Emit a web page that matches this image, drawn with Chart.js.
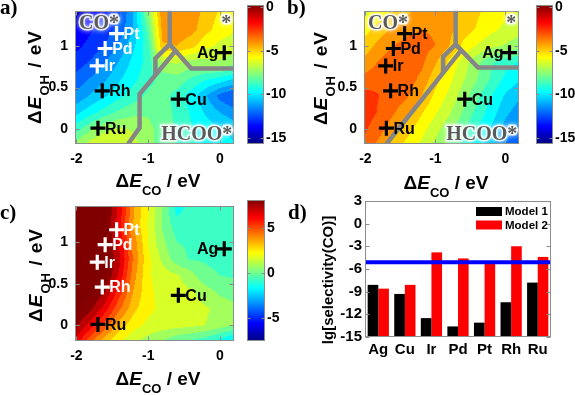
<!DOCTYPE html>
<html>
<head>
<meta charset="utf-8">
<script src="https://cdn.jsdelivr.net/npm/chart.js@4/dist/chart.umd.min.js"></script>
<style>
  body { margin: 0; background: #fff; }
  #fig { position: relative; width: 575px; height: 395px; overflow: hidden; font-family: 'Liberation Sans', Arial, sans-serif; }
  canvas { position: absolute; }
  .t { position: absolute; font-weight: bold; font-size: 19px; line-height: 19px; white-space: nowrap; transform: translate(-50%, -50%); }
  .t.rot { transform: translate(-50%, -50%) rotate(-90deg); letter-spacing: 1px; }
  .t i { font-style: italic; }
  .t .sub { position: relative; top: 8px; font-size: 13px; }
  .t.small { font-size: 15px; line-height: 15px; letter-spacing: 0; }
  .lbl { position: absolute; font-family: 'Liberation Serif', 'Times New Roman', serif; font-weight: bold; font-size: 21px; line-height: 21px; }
</style>
</head>
<body>
<div id="fig">
  <canvas id="mapA" width="245" height="195" style="left:0;top:0"></canvas>
  <canvas id="cbA" width="48" height="195" style="left:240px;top:0"></canvas>
  <canvas id="mapB" width="240" height="195" style="left:290px;top:0"></canvas>
  <canvas id="cbB" width="46" height="195" style="left:529px;top:0"></canvas>
  <canvas id="mapC" width="245" height="200" style="left:0;top:195px"></canvas>
  <canvas id="cbC" width="48" height="200" style="left:240px;top:195px"></canvas>
  <canvas id="barD" width="285" height="200" style="left:290px;top:195px"></canvas>

  <div class="lbl" style="left:0;top:-3px">a)</div>
  <div class="lbl" style="left:287px;top:-3px">b)</div>
  <div class="lbl" style="left:0;top:202px">c)</div>
  <div class="lbl" style="left:288px;top:202px">d)</div>

  <div class="t" style="left:158px;top:181px">&Delta;<i>E</i><span class="sub">CO</span> / eV</div>
  <div class="t rot" style="left:35px;top:77px">&Delta;<i>E</i><span class="sub">OH</span> / eV</div>
  <div class="t" style="left:446px;top:183px">&Delta;<i>E</i><span class="sub">CO</span> / eV</div>
  <div class="t rot" style="left:321px;top:78px">&Delta;<i>E</i><span class="sub">OH</span> / eV</div>
  <div class="t" style="left:158px;top:379px">&Delta;<i>E</i><span class="sub">CO</span> / eV</div>
  <div class="t rot" style="left:36px;top:275px">&Delta;<i>E</i><span class="sub">OH</span> / eV</div>
  <div class="t rot small" style="left:327px;top:280px">lg[selectivity(CO)]</div>
</div>

<script>
// grid nodes of the maps (eV)
const GRID_X = [-2.0, -1.8, -1.6, -1.4, -1.2, -1.0, -0.8, -0.6, -0.4, -0.2, 0.0, 0.2];
const GRID_Y = [1.4, 1.2, 1.0, 0.8, 0.6, 0.4, 0.2, 0.0, -0.2];

// map a) rows follow GRID_Y, columns GRID_X
const MAP_A = [
  [-14.8, -14.0, -13.4, -12.6, -10.8, -7.5, -3.9, -3.8, -4.0, -4.8, -5.4, -5.7],
  [-14.0, -13.4, -12.9, -12.2, -10.8, -8.3, -4.2, -4.0, -4.2, -5.0, -5.7, -6.0],
  [-13.5, -13.0, -12.5, -11.5, -10.2, -8.8, -4.6, -4.5, -5.0, -5.9, -6.3, -6.6],
  [-12.9, -12.4, -11.7, -10.8, -9.8, -9.0, -7.0, -6.8, -7.3, -7.2, -7.0, -7.3],
  [-12.2, -11.6, -11.0, -10.2, -9.5, -8.8, -8.2, -8.0, -8.6, -9.2, -9.6, -10.2],
  [-11.5, -10.8, -10.2, -9.5, -8.9, -8.3, -8.2, -8.8, -9.7, -10.8, -12.0, -12.6],
  [-10.3, -9.6, -8.9, -8.3, -7.9, -7.8, -8.1, -8.7, -9.4, -10.2, -10.9, -11.4],
  [-8.8, -7.8, -7.1, -6.8, -7.0, -7.5, -8.0, -8.6, -9.2, -9.7, -10.0, -10.4],
  [-7.2, -6.4, -6.0, -6.0, -6.6, -7.5, -8.0, -8.5, -9.1, -9.5, -9.8, -10.0]
];
const MAP_B = [
  [-6.3, -5.7, -5.1, -4.6, -4.2, -4.0, -4.2, -4.7, -5.2, -5.6, -5.9, -6.2],
  [-5.6, -4.9, -4.3, -3.9, -3.7, -3.8, -4.3, -4.9, -5.4, -5.9, -6.3, -6.6],
  [-4.9, -4.2, -3.7, -3.4, -3.4, -3.7, -4.5, -5.5, -6.2, -6.7, -7.0, -7.3],
  [-4.2, -3.6, -3.2, -3.2, -3.5, -4.4, -5.5, -6.5, -7.5, -8.4, -9.0, -9.4],
  [-3.4, -3.1, -3.1, -3.3, -3.9, -5.0, -5.9, -6.8, -7.7, -8.6, -9.5, -10.0],
  [-2.6, -2.9, -3.2, -3.6, -4.5, -5.5, -6.3, -7.3, -8.3, -9.3, -10.2, -10.8],
  [-2.5, -3.0, -3.6, -4.3, -5.2, -6.0, -6.8, -7.8, -8.8, -9.7, -10.7, -11.3],
  [-2.8, -3.4, -4.2, -5.0, -5.8, -6.6, -7.4, -8.3, -9.3, -10.2, -11.2, -12.0],
  [-3.2, -4.0, -4.8, -5.6, -6.3, -7.1, -7.9, -8.8, -9.7, -10.7, -11.8, -12.8]
];
const MAP_C = [
  [9.0, 9.0, 8.6, 6.5, 3.6, 2.0, 0.4, -1.5, -0.8, -0.5, -0.5, -0.5],
  [9.0, 9.0, 8.5, 6.2, 3.5, 1.9, 0.3, -0.8, -0.6, -0.5, -0.5, -0.6],
  [9.0, 9.0, 8.6, 6.6, 4.0, 2.0, 0.6, -0.4, -0.5, -0.6, -0.6, -0.7],
  [9.0, 9.0, 8.6, 7.0, 4.2, 2.2, 1.0, -0.1, -0.5, -0.5, -0.6, -0.7],
  [9.0, 9.0, 8.5, 6.6, 3.9, 2.1, 1.6, 1.3, 0.7, -0.2, -0.4, -0.5],
  [9.0, 8.6, 7.6, 5.5, 3.5, 2.2, 1.7, 1.5, 1.3, 0.8, 0.2, 0.0],
  [8.6, 7.8, 6.4, 4.5, 3.0, 2.2, 1.8, 1.6, 1.5, 1.3, 1.0, 0.6],
  [7.8, 6.4, 4.8, 3.2, 2.3, 1.8, 1.6, 1.5, 1.4, 1.2, 0.8, 0.4],
  [6.4, 4.5, 3.0, 2.0, 1.3, 0.8, 0.3, -0.3, -0.6, -1.0, -1.6, -2.5]
];

// metals on the maps
const METALS = ['Pt', 'Pd', 'Ir', 'Rh', 'Ru', 'Cu', 'Ag'];
const METAL_DCO = [-1.44, -1.60, -1.71, -1.64, -1.70, -0.58, 0.06];
const METAL_DOH = [1.15, 0.97, 0.76, 0.46, 0.01, 0.36, 0.92];

// phase boundaries (dE_CO, dE_OH)
const BOUND_A_TOP = [[-0.70, 1.43], [-0.70, 1.02]];
const BOUND_A_RIGHT = [[-0.70, 1.02], [-0.40, 0.73], [0.20, 0.73]];
const BOUND_A_MAIN = [[-0.62, 0.94], [-1.12, 0.42], [-1.12, 0.015], [-1.28, -0.18]];
const BOUND_A_LOOP = [[-0.70, 1.02], [-0.90, 0.85], [-0.90, 0.65]];
const BOUND_B_TOP = [[-0.71, 1.43], [-0.71, 1.02]];
const BOUND_B_RIGHT = [[-0.71, 1.02], [-0.39, 0.74], [0.20, 0.74]];
const BOUND_B_MAIN = [[-0.63, 0.95], [-1.70, -0.18]];
const BOUND_B_LOOP = [[-0.71, 1.02], [-0.89, 0.87], [-0.89, 0.675]];

const X_TICKS = [-2, -1, 0];
const Y_TICKS = [0, 0.5, 1];
const CB_TICKS_AB = [0, -5, -10, -15];
const CB_TICKS_C = [5, 0, -5];
const CB_RANGE_AB = [-15.7, 0.26];
const CB_RANGE_C = [-7.6, 8.1];

// panel d
const BAR_METALS = ['Ag', 'Cu', 'Ir', 'Pd', 'Pt', 'Rh', 'Ru'];
const MODEL1 = [-8.1, -9.3, -12.5, -13.6, -13.1, -10.4, -7.8];
const MODEL2 = [-8.6, -8.1, -3.8, -4.6, -5.1, -3.0, -4.4];
const THRESHOLD = -5.1;
const BAR_TICKS = [3, 0, -3, -6, -9, -12, -15];

Chart.defaults.font.family = "'Liberation Sans', Arial, sans-serif";
Chart.defaults.font.weight = 'bold';
Chart.defaults.font.size = 14;
Chart.defaults.color = '#000';
Chart.defaults.animation = false;
Chart.defaults.events = [];
Chart.defaults.responsive = false;
Chart.defaults.devicePixelRatio = 1;
Chart.defaults.plugins.legend.display = false;
Chart.defaults.plugins.tooltip.enabled = false;

const FRAME = '#8c8c8c';
const el = id => document.getElementById(id);
const pts = arr => arr.map(p => ({ x: p[0], y: p[1] }));
const setTicks = list => s => { s.ticks = list.map(v => ({ value: v })); };
const fixSize = (prop, size) => s => {
  s[prop] = size;
  s.paddingTop = s.paddingBottom = s.paddingLeft = s.paddingRight = 0;
};

function jet(t) {
  t = Math.min(1, Math.max(0, t));
  const f = c => Math.round(255 * Math.min(1, Math.max(0, 1.5 - Math.abs(4 * t - c))));
  return [f(3), f(2), f(1)];
}

function sampleGrid(grid, vx, vy) {
  const nx = GRID_X.length, ny = GRID_Y.length;
  let fx = (vx - GRID_X[0]) / (GRID_X[1] - GRID_X[0]);
  let fy = (vy - GRID_Y[0]) / (GRID_Y[1] - GRID_Y[0]);
  fx = Math.min(nx - 1, Math.max(0, fx));
  fy = Math.min(ny - 1, Math.max(0, fy));
  const i = Math.min(nx - 2, Math.floor(fx)), j = Math.min(ny - 2, Math.floor(fy));
  const u = fx - i, w = fy - j;
  return grid[j][i] * (1 - u) * (1 - w) + grid[j][i + 1] * u * (1 - w) +
         grid[j + 1][i] * (1 - u) * w + grid[j + 1][i + 1] * u * w;
}

// filled contour bands, sampled through the chart's own scales
function heatmap(grid, range, step) {
  return {
    id: 'heatmap',
    beforeDatasetsDraw(chart) {
      const { ctx, chartArea: a, scales: { x, y } } = chart;
      const left = Math.round(a.left), top = Math.round(a.top);
      const w = Math.round(a.right) - left, h = Math.round(a.bottom) - top;
      const img = ctx.createImageData(w, h);
      const span = range[1] - range[0];
      for (let j = 0; j < h; j++) {
        const vy = y.getValueForPixel(top + j + 0.5);
        for (let i = 0; i < w; i++) {
          const v = sampleGrid(grid, x.getValueForPixel(left + i + 0.5), vy);
          const band = Math.floor((v - range[0]) / step);
          const c = jet((band + 0.5) * step / span);
          const k = 4 * (j * w + i);
          img.data[k] = c[0]; img.data[k + 1] = c[1]; img.data[k + 2] = c[2]; img.data[k + 3] = 255;
        }
      }
      ctx.putImageData(img, left, top);
    }
  };
}

const colorbar = {
  id: 'colorbar',
  beforeDatasetsDraw(chart) {
    const { ctx, chartArea: a, scales: { y } } = chart;
    const span = y.max - y.min;
    for (let py = Math.round(a.top); py < Math.round(a.bottom); py++) {
      const c = jet((y.getValueForPixel(py + 0.5) - y.min) / span);
      ctx.fillStyle = 'rgb(' + c.join(',') + ')';
      ctx.fillRect(a.left, py, a.right - a.left, 1);
    }
  }
};

function frame(tickX, tickY, len) {
  return {
    id: 'frame',
    afterDatasetsDraw(chart) {
      const { ctx, chartArea: a, scales } = chart;
      const L = Math.round(a.left) + 0.5, R = Math.round(a.right) - 0.5;
      const T = Math.round(a.top) + 0.5, B = Math.round(a.bottom) - 0.5;
      ctx.save();
      ctx.strokeStyle = FRAME;
      ctx.lineWidth = 1;
      ctx.strokeRect(L, T, R - L, B - T);
      ctx.beginPath();
      if (tickX) scales.x.ticks.forEach(t => {
        const px = Math.round(scales.x.getPixelForValue(t.value)) + 0.5;
        ctx.moveTo(px, B); ctx.lineTo(px, B - len);
        ctx.moveTo(px, T); ctx.lineTo(px, T + len);
      });
      if (tickY) scales.y.ticks.forEach(t => {
        const py = Math.round(scales.y.getPixelForValue(t.value)) + 0.5;
        ctx.moveTo(L, py); ctx.lineTo(L + len, py);
        ctx.moveTo(R, py); ctx.lineTo(R - len, py);
      });
      ctx.stroke();
      ctx.restore();
    }
  };
}

function metalLabels(colors) {
  return {
    id: 'metalLabels',
    afterDatasetsDraw(chart) {
      const { ctx } = chart;
      ctx.save();
      ctx.font = "bold 16px 'Liberation Sans', Arial, sans-serif";
      ctx.textBaseline = 'middle';
      chart.getDatasetMeta(0).data.forEach((p, i) => {
        ctx.fillStyle = colors[i];
        if (METALS[i] === 'Ag') {
          ctx.textAlign = 'right';
          ctx.fillText(METALS[i], p.x - 6, p.y + 1);
        } else {
          ctx.textAlign = 'left';
          ctx.fillText(METALS[i], p.x + 7, p.y + 1);
        }
      });
      ctx.restore();
    }
  };
}

const cornerText = {
  id: 'cornerText',
  afterDatasetsDraw(chart) {
    const { ctx, chartArea: a } = chart;
    ctx.save();
    ctx.font = "bold 20px 'Liberation Serif', 'Times New Roman', serif";
    const put = (txt, x, y, align) => {
      ctx.textAlign = align;
      ctx.shadowColor = '#fff';
      ctx.shadowBlur = 5;
      ctx.lineWidth = 3;
      ctx.strokeStyle = 'rgba(255,255,255,0.85)';
      ctx.strokeText(txt, x, y);
      ctx.shadowBlur = 0;
      ctx.fillStyle = '#5a5a5a';
      ctx.fillText(txt, x, y);
    };
    put('CO*', a.left + 4, a.top + 18, 'left');
    put('*', a.right - 3, a.top + 18, 'right');
    put('HCOO*', a.right - 2, a.bottom - 4, 'right');
    ctx.restore();
  }
};

function mapChart(id, grid, range, step, bounds, crossColors, pad, yW, xH, withText) {
  const datasets = [{
    data: METALS.map((m, i) => ({ x: METAL_DCO[i], y: METAL_DOH[i] })),
    pointStyle: 'cross',
    pointRadius: 7.5,
    pointBorderWidth: 3.2,
    pointBorderColor: crossColors
  }];
  bounds.forEach(b => datasets.push({
    data: pts(b), showLine: true, pointRadius: 0,
    borderColor: '#868686', borderWidth: 4.5
  }));
  const plugins = [heatmap(grid, range, step), frame(true, true, 4)];
  if (withText) plugins.push(cornerText);
  plugins.push(metalLabels(crossColors));
  return new Chart(el(id), {
    type: 'scatter',
    data: { datasets },
    options: {
      layout: { padding: pad },
      scales: {
        x: {
          min: -2.02, max: 0.2,
          afterBuildTicks: setTicks(X_TICKS),
          afterFit: fixSize('height', xH),
          ticks: { padding: 7, callback: v => String(v) },
          grid: { display: false, drawTicks: false },
          border: { display: false }
        },
        y: {
          min: id === 'mapC' ? -0.19 : -0.18, max: id === 'mapC' ? 1.44 : 1.425,
          afterBuildTicks: setTicks(Y_TICKS),
          afterFit: fixSize('width', yW),
          ticks: { padding: 7, callback: v => String(v) },
          grid: { display: false, drawTicks: false },
          border: { display: false }
        }
      }
    },
    plugins
  });
}

function colorbarChart(id, range, ticks, pad, yW) {
  return new Chart(el(id), {
    type: 'scatter',
    data: { datasets: [] },
    options: {
      layout: { padding: pad },
      scales: {
        x: { display: false },
        y: {
          position: 'right',
          min: range[0], max: range[1],
          afterBuildTicks: setTicks(ticks),
          afterFit: fixSize('width', yW),
          ticks: { padding: 2, callback: v => String(v) },
          grid: { display: false, drawTicks: false },
          border: { display: false }
        }
      }
    },
    plugins: [colorbar, frame(false, true, 3)]
  });
}

const WHITE3 = ['#fff', '#fff', '#fff', '#000', '#000', '#000', '#000'];
const BLACK = METALS.map(() => '#000');
const WHITE4 = ['#fff', '#fff', '#fff', '#fff', '#000', '#000', '#000'];

mapChart('mapA', MAP_A, CB_RANGE_AB, 0.8, [BOUND_A_TOP, BOUND_A_RIGHT, BOUND_A_MAIN, BOUND_A_LOOP],
  WHITE3, { left: 0, top: 5, right: 5, bottom: 0 }, 75, 51, true);
colorbarChart('cbA', CB_RANGE_AB, CB_TICKS_AB, { left: 7, top: 5, right: 0, bottom: 51 }, 24);

mapChart('mapB', MAP_B, CB_RANGE_AB, 0.8, [BOUND_B_TOP, BOUND_B_RIGHT, BOUND_B_MAIN, BOUND_B_LOOP],
  BLACK, { left: 0, top: 5, right: 2, bottom: 0 }, 74, 51, true);
colorbarChart('cbB', CB_RANGE_AB, CB_TICKS_AB, { left: 7, top: 5, right: 0, bottom: 51 }, 22);

mapChart('mapC', MAP_C, CB_RANGE_C, 0.8, [], WHITE4,
  { left: 0, top: 5, right: 5, bottom: 0 }, 75, 54, false);
colorbarChart('cbC', CB_RANGE_C, CB_TICKS_C, { left: 7, top: 5, right: 0, bottom: 54 }, 23);

// panel d
const thresholdLine = {
  id: 'thresholdLine',
  afterDatasetsDraw(chart) {
    const { ctx, chartArea: a, scales: { y } } = chart;
    const py = y.getPixelForValue(THRESHOLD);
    ctx.save();
    ctx.strokeStyle = '#0000ff';
    ctx.lineWidth = 4;
    ctx.beginPath();
    ctx.moveTo(a.left, py);
    ctx.lineTo(a.right, py);
    ctx.stroke();
    ctx.restore();
  }
};

const barLegend = {
  id: 'barLegend',
  afterDraw(chart) {
    const { ctx, chartArea: a } = chart;
    ctx.save();
    ctx.font = "bold 11.5px 'Liberation Sans', Arial, sans-serif";
    ctx.textBaseline = 'middle';
    ctx.textAlign = 'left';
    chart.data.datasets.forEach((ds, i) => {
      const top = a.top + 6 + i * 13.5;
      ctx.fillStyle = ds.backgroundColor;
      ctx.fillRect(a.right - 75, top, 26, 9);
      ctx.fillStyle = '#000';
      ctx.fillText(ds.label, a.right - 46, top + 5);
    });
    ctx.restore();
  }
};

new Chart(el('barD'), {
  type: 'bar',
  data: {
    labels: BAR_METALS,
    datasets: [
      { label: 'Model 1', data: MODEL1, backgroundColor: '#000000', base: -15 },
      { label: 'Model 2', data: MODEL2, backgroundColor: '#ff0000', base: -15 }
    ]
  },
  options: {
    layout: { padding: { left: 0, top: 6, right: 24, bottom: 0 } },
    datasets: { bar: { categoryPercentage: 0.8, barPercentage: 1.0, borderWidth: 0 } },
    scales: {
      x: {
        afterFit: fixSize('height', 58),
        ticks: { padding: 4, font: { size: 15 } },
        grid: { display: false, drawTicks: false },
        border: { display: false }
      },
      y: {
        min: -15, max: 3,
        afterBuildTicks: setTicks(BAR_TICKS),
        afterFit: fixSize('width', 75),
        ticks: { padding: 3, font: { size: 15 }, callback: v => String(v) },
        grid: { display: false, drawTicks: false },
        border: { display: false }
      }
    }
  },
  plugins: [thresholdLine, frame(false, true, 4), barLegend]
});
</script>
</body>
</html>
